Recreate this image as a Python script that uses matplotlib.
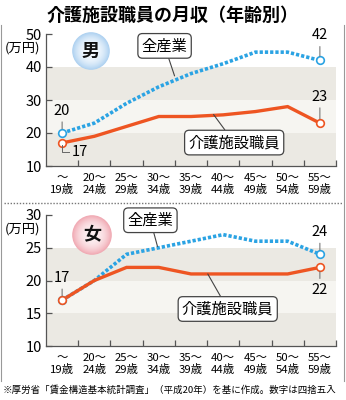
import matplotlib
matplotlib.use("Agg")
import matplotlib.pyplot as plt
import numpy as np
from matplotlib.patches import Circle
from matplotlib.lines import Line2D

plt.rcParams["font.family"] = ["Noto Sans CJK JP", "DejaVu Sans"]

# 年齢階級と月収（万円）
ages = ["～\n19歳", "20～\n24歳", "25～\n29歳", "30～\n34歳", "35～\n39歳",
        "40～\n44歳", "45～\n49歳", "50～\n54歳", "55～\n59歳"]
male_all = [20, 23, 29, 34, 38, 41, 44.5, 44.5, 42]
male_care = [17, 19, 22, 25, 25, 25.5, 26.5, 28, 23]
female_all = [17, 20, 24, 25, 26, 27, 26, 26, 24]
female_care = [17, 20, 22, 22, 21, 21, 21, 21, 22]

male_ticks = [10, 20, 30, 40, 50]
female_ticks = [10, 15, 20, 25, 30]

W, H = 346, 400
ORANGE = "#ee5522"
BLUE = "#2ba3e3"
GRID_DARK = "#ebe9e3"
GRID_LIGHT = "#f6f5f1"
AXIS = "#555555"


def fx(px):
    return px / W


def fy(py):
    return 1 - py / H


def draw_panel(fig, top_px, bottom_px, all_vals, care_vals, ticks):
    ax = fig.add_axes([fx(46), fy(bottom_px), fx(290), (bottom_px - top_px) / H])
    x = np.arange(len(ages))
    ax.set_xlim(-0.5, len(ages) - 0.5)
    ax.set_ylim(ticks[0], ticks[-1])

    # alternating bands, shaded from the bottom up, top band left white
    for i in range(len(ticks) - 2):
        color = GRID_DARK if i % 2 == 0 else GRID_LIGHT
        ax.axhspan(ticks[i], ticks[i + 1], color=color, lw=0, zorder=0)

    ax.plot(x, all_vals, color=BLUE, lw=2.6, ls=(0, (0.9, 0.55)),
            dash_capstyle="butt", zorder=3)
    ax.plot(x, care_vals, color=ORANGE, lw=2.4, solid_joinstyle="miter", zorder=4)
    for vals, c in ((all_vals, BLUE), (care_vals, ORANGE)):
        ax.plot([x[0], x[-1]], [vals[0], vals[-1]], ls="none", marker="o",
                ms=5.5, mfc="white", mec=c, mew=1.2, zorder=5)

    for s in ("top", "right"):
        ax.spines[s].set_visible(False)
    for s in ("left", "bottom"):
        ax.spines[s].set_color(AXIS)
        ax.spines[s].set_linewidth(0.9)

    ax.set_yticks(ticks)
    ax.set_yticklabels([str(t) for t in ticks], fontsize=10.5)
    ax.tick_params(axis="y", direction="in", length=4, width=0.9,
                   color=AXIS, pad=3)
    ax.set_xticks(x)
    ax.set_xticklabels(ages, fontsize=8.2, linespacing=1.15)
    ax.tick_params(axis="x", length=0, pad=5)
    ax.set_xticks(list(x[1:] - 0.5) + [len(ages) - 0.5], minor=True)
    ax.tick_params(axis="x", which="minor", direction="in", length=4,
                   width=0.9, color=AXIS)

    ax.text(-0.02, 1 - 14 / (bottom_px - top_px), "(万円)", transform=ax.transAxes,
            ha="right", va="center", fontsize=9.5)
    return ax


def label_box(ax, text, xy, xytext):
    ax.annotate(text, xy=xy, xytext=xytext, textcoords="data",
                ha="center", va="center", fontsize=11, zorder=6,
                annotation_clip=False,
                bbox=dict(boxstyle="round,pad=0.25,rounding_size=0.3",
                          fc="white", ec="#444444", lw=0.9),
                arrowprops=dict(arrowstyle="-", color="#444444", lw=0.8,
                                shrinkA=0, shrinkB=0))


def value_label(ax, text, xy, dy_pt):
    ax.annotate(text, xy=xy, xytext=(0, dy_pt), textcoords="offset points",
                ha="center", va="bottom" if dy_pt > 0 else "top",
                fontsize=10.5, zorder=6, annotation_clip=False,
                arrowprops=dict(arrowstyle="-", color="#666666", lw=0.7,
                                shrinkA=1, shrinkB=3))


def badge(fig, cx, cy, r, text, inner, outer):
    bax = fig.add_axes([fx(cx - r), fy(cy + r), fx(2 * r), 2 * r / H])
    bax.set_xlim(-1, 1)
    bax.set_ylim(-1, 1)
    bax.axis("off")
    g = np.linspace(-1, 1, 120)
    xx, yy = np.meshgrid(g, g)
    rr = np.clip(np.sqrt(xx ** 2 + yy ** 2), 0, 1)
    c_in = np.array(matplotlib.colors.to_rgb(inner))
    c_out = np.array(matplotlib.colors.to_rgb(outer))
    t = rr[..., None] ** 2.4
    img = c_in * (1 - t) + c_out * t
    im = bax.imshow(img, extent=(-1, 1, -1, 1), origin="lower", aspect="auto")
    im.set_clip_path(Circle((0, 0), 0.99, transform=bax.transData))
    bax.text(0, 0, text, ha="center", va="center", fontsize=13,
             fontweight="bold", color="#111111")


fig = plt.figure(figsize=(W / 100, H / 100), dpi=100)
fig.patch.set_facecolor("white")

fig.text(0.5, fy(15), "介護施設職員の月収（年齢別）", ha="center", va="center",
         fontsize=13, fontweight="bold")

# 男性
ax1 = draw_panel(fig, 34, 166, male_all, male_care, male_ticks)
label_box(ax1, "全産業", xy=(3.49, 37.3), xytext=(3.18, 46.4))
label_box(ax1, "介護施設職員", xy=(4.7, 25.6), xytext=(5.34, 17.1))
value_label(ax1, "20", (0, male_all[0]), 11)
value_label(ax1, "42", (8, male_all[-1]), 13)
value_label(ax1, "23", (8, male_care[-1]), 14)
ax1.plot([0, 0, 0.2], [male_care[0] - 0.6, 14.3, 14.3], color="#666666",
         lw=0.7, zorder=6)
ax1.text(0.3, 14.3, "17", ha="left", va="center", fontsize=10.5, zorder=6)
badge(fig, 91, 51, 19, "男", "#f6fafe", "#aacff0")

# 区切り線
fig.add_artist(Line2D([fx(4), fx(343)], [fy(203), fy(203)], color="#777777",
                      lw=1.0, ls=(0, (1, 1.2))))

# 女性
ax2 = draw_panel(fig, 215, 346, female_all, female_care, female_ticks)
label_box(ax2, "全産業", xy=(2.96, 25.2), xytext=(2.74, 29.2))
label_box(ax2, "介護施設職員", xy=(4.52, 21.0), xytext=(5.14, 15.65))
value_label(ax2, "17", (0, female_care[0]), 11)
value_label(ax2, "24", (8, female_all[-1]), 11)
value_label(ax2, "22", (8, female_care[-1]), -11)
badge(fig, 92, 235, 20, "女", "#fdf0f2", "#f0a6b0")

# 外枠（左右）
for xp in (1, 344):
    fig.add_artist(Line2D([fx(xp), fx(xp)], [fy(25), fy(381)], color="#999999",
                          lw=0.8))

fig.text(fx(3), fy(390), "※厚労省「賃金構造基本統計調査」（平成20年）を基に作成。数字は四捨五入",
         ha="left", va="center", fontsize=6.8)

fig.savefig("out.png", dpi=100)
